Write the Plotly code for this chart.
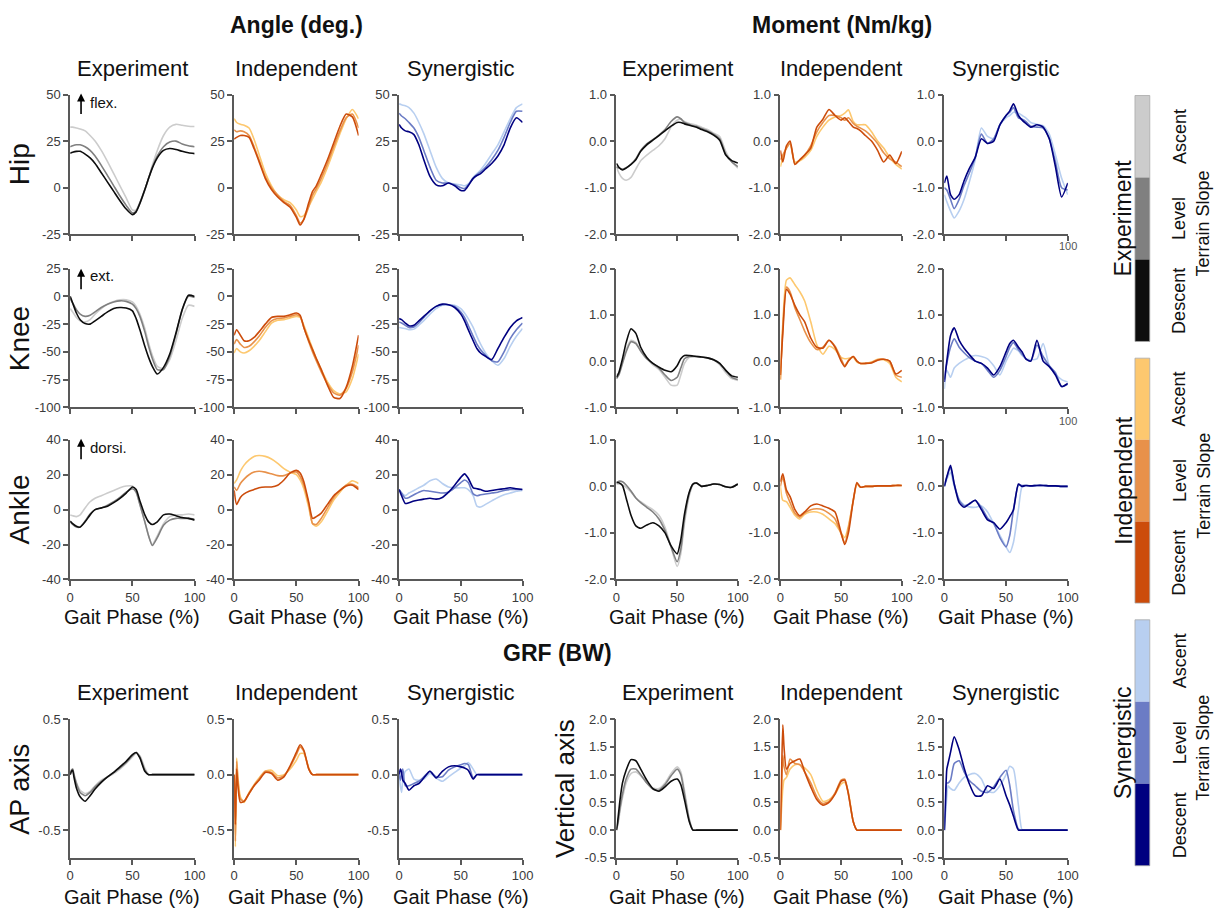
import plotly.graph_objects as go

W, H = 1225, 917

# ---------------- data ----------------
P = [0, 2, 5, 8, 12, 16, 20, 25, 30, 35, 40, 45, 50, 53, 56, 60, 63, 66, 70, 75, 80, 85, 90, 95, 100]
PG = [0, 1, 2, 3, 5, 8, 12, 16, 20, 25, 30, 35, 40, 45, 50, 53, 56, 60, 63, 66, 70, 80, 90, 100]

GROUPS = ["Experiment", "Independent", "Synergistic"]
SLOPES = ["Descent", "Level", "Ascent"]

# Hip angle (deg)
HIP_ANG_EXP_D = [18.5, 19, 19.5, 19.5, 18, 16, 13, 8, 3, -2, -7, -11.5, -14.5, -13, -8.5, -1, 5, 10.5, 16, 20, 21, 20.5, 19.5, 18.7, 18.3]
HIP_ANG_EXP_L = [22, 22.5, 23, 23, 22, 20, 17, 12, 6.5, 1, -4.5, -9.5, -13.5, -12.5, -8, -1, 5, 11, 17, 22, 24.5, 25, 23.5, 22.5, 22]
HIP_ANG_EXP_A = [32.5, 32.5, 32, 31.5, 30.5, 28, 25, 20, 14, 7.5, 1, -5.5, -12, -12, -8.5, -1.5, 5, 12, 20, 28, 32.5, 34, 33.5, 33, 32.8]
HIP_ANG_IND_D = [26, 27, 28, 28, 27, 21, 14, 5, -1, -5, -8, -10.5, -16, -20, -17, -8, -2, 1, 7, 15, 24, 33, 39.5, 38, 28]
HIP_ANG_IND_L = [31, 30, 30.5, 30, 28, 22, 15, 6, 0, -4, -7.5, -9.5, -15, -19, -17, -10, -4, -0.5, 5, 13, 22, 30.5, 37.5, 39.5, 32]
HIP_ANG_IND_A = [37, 35, 34, 33.5, 32, 26, 18, 8, 1, -4, -6.5, -8, -12, -15.5, -15, -10, -6, -2, 3, 11, 20, 29, 37, 42, 37]
HIP_ANG_SYN_D = [34, 32, 30.5, 30, 28.5, 23, 15, 6, 1.5, 1, 2.5, 1, -1.5, -1.5, 1, 5, 6.5, 7.5, 10, 13, 17, 23, 32, 37.5, 35]
HIP_ANG_SYN_L = [40, 38.5, 37, 35, 32, 27, 20, 11, 4, 2.5, 2.5, 1.5, 0, -0.5, 1.5, 5, 7, 8.5, 11, 15, 20, 27, 35, 41, 41]
HIP_ANG_SYN_A = [45, 44.5, 44, 43, 40, 35, 29, 20, 11, 5, 2.5, 2, 1.5, 1, 2, 5.5, 7.5, 9.5, 13, 18, 23, 30, 37, 43, 45]

# Knee angle (deg)
KNEE_ANG_EXP_D = [0, -6, -15, -21, -24.5, -25, -22, -18, -14, -11, -10, -10.5, -13, -20, -30, -45, -55, -63, -70, -64, -52, -33, -12, 1, 0]
KNEE_ANG_EXP_L = [-2, -6, -12, -16, -18, -17, -14, -10, -7, -5, -4, -4.5, -7, -11, -18, -32, -45, -56, -66, -66, -54, -34, -12, 0, -1]
KNEE_ANG_EXP_A = [-11, -14, -19, -22, -23, -21, -16, -11, -7, -4.5, -3, -3, -5, -9, -16, -29, -42, -53, -63, -65, -57, -40, -20, -8, -9]
KNEE_ANG_IND_D = [-35, -30, -35, -40, -40, -37, -32, -25, -19, -18, -18, -16.5, -15, -17, -28, -40, -48, -56, -66, -80, -91, -92, -82, -63, -35]
KNEE_ANG_IND_L = [-43, -39, -43, -46, -45, -41, -36, -28, -22, -20, -19.5, -18, -16.5, -18, -28, -41, -50, -58, -68, -79, -87, -89, -83, -68, -44]
KNEE_ANG_IND_A = [-51, -47, -50, -51, -49, -45, -40, -32, -24, -21.5, -21, -19.5, -18, -19, -26, -38, -47, -56, -66, -77, -85, -88, -86, -74, -52]
KNEE_ANG_SYN_D = [-20, -21, -24, -26.5, -26, -22, -18, -13, -9, -7, -7.5, -10, -16, -22, -30, -40, -47, -51, -54, -57, -47, -37, -28, -22, -19]
KNEE_ANG_SYN_L = [-23, -24, -26, -28, -27.5, -24, -19, -13, -9, -7.5, -7.5, -9, -14, -19, -26, -36, -43, -48, -53, -58, -59, -50, -38, -30, -24]
KNEE_ANG_SYN_A = [-28, -28.5, -29, -30, -29.5, -26, -22, -16, -11, -8, -7.5, -8, -11, -15, -20, -28, -36, -43, -51, -58, -62, -56, -45, -36, -29]

# Ankle angle (deg)
ANK_ANG_EXP_D = [-6.5, -8, -9.5, -10, -7, -3, 0, 1, 2, 4, 6.5, 9.5, 13, 11.5, 5, -3, -7, -8.5, -7, -3, -2.5, -3.5, -4.5, -5, -6]
ANK_ANG_EXP_L = [-7, -8.5, -10, -10, -6.5, -2.5, 0, 1, 2.5, 4.5, 7, 10, 12, 10, 3, -7, -15, -20.5, -16, -9, -6, -5, -5, -5, -5.5]
ANK_ANG_EXP_A = [-3, -3.5, -4, -3, 1, 4.5, 6.5, 8, 9.5, 11, 12.5, 13.5, 13.5, 10, 3, -7, -15, -20, -15, -8, -4, -3, -3, -2.5, -3]
ANK_ANG_IND_D = [11, 3, 7, 9, 10.5, 11.5, 12.5, 13, 13, 14, 17, 21, 22.5, 21, 16, 4, -5, -4, -2, 3, 8, 11, 13.5, 14, 11.5]
ANK_ANG_IND_L = [13, 11, 15, 17.5, 20, 21.5, 22, 21.5, 20.5, 19.5, 19.5, 21, 21.5, 19, 14, 3, -8, -8.5, -5, 1, 7, 11, 14, 14.5, 12.5]
ANK_ANG_IND_A = [15, 17, 22, 25.5, 28.5, 30.5, 31, 30.5, 29, 26.5, 23.5, 21.5, 20, 17, 12, 1, -8, -9.5, -7, -1, 5.5, 10, 14, 16.5, 15]
ANK_ANG_SYN_D = [11.5, 8, 3.5, 4, 5, 5.5, 6, 6.5, 6, 7, 10, 14, 18.5, 20.5, 18, 12.5, 12, 11.5, 10.5, 11, 11.5, 12, 12.5, 12, 11.5]
ANK_ANG_SYN_L = [11.5, 9.5, 6.5, 7, 8.5, 10, 11, 10.5, 10, 9.5, 10, 12.5, 15.5, 17, 15.5, 9, 8, 8.5, 9, 9.5, 10, 11, 11.5, 11.5, 11.5]
ANK_ANG_SYN_A = [11, 9.5, 8, 9.5, 11, 12.5, 14, 16.5, 17.5, 15, 13, 12.5, 12.5, 12.5, 11.5, 8, 2, 1.5, 3, 5, 7, 8.5, 9.5, 10.5, 11]

# Hip moment (Nm/kg)
HIP_MOM_EXP_D = [-0.48, -0.56, -0.62, -0.58, -0.5, -0.4, -0.22, -0.08, 0.02, 0.12, 0.22, 0.32, 0.4, 0.4, 0.37, 0.34, 0.32, 0.3, 0.25, 0.2, 0.13, 0.02, -0.3, -0.42, -0.47]
HIP_MOM_EXP_L = [-0.55, -0.58, -0.6, -0.57, -0.5, -0.38, -0.2, -0.06, 0.03, 0.13, 0.25, 0.42, 0.52, 0.48, 0.4, 0.36, 0.33, 0.32, 0.27, 0.22, 0.15, 0.05, -0.28, -0.45, -0.55]
HIP_MOM_EXP_A = [-0.55, -0.68, -0.8, -0.84, -0.78, -0.6, -0.42, -0.3, -0.2, -0.1, 0.05, 0.3, 0.45, 0.47, 0.42, 0.38, 0.36, 0.34, 0.3, 0.25, 0.17, 0.1, -0.22, -0.45, -0.58]
HIP_MOM_IND_D = [-0.2, -0.45, -0.1, 0.0, -0.5, -0.4, -0.3, -0.15, 0.3, 0.47, 0.68, 0.55, 0.45, 0.5, 0.42, 0.3, 0.27, 0.22, 0.12, 0.0, -0.2, -0.45, -0.3, -0.48, -0.22]
HIP_MOM_IND_L = [-0.4, -0.3, -0.15, -0.05, -0.5, -0.4, -0.3, -0.1, 0.2, 0.4, 0.55, 0.55, 0.5, 0.45, 0.5, 0.38, 0.32, 0.28, 0.22, 0.1, -0.05, -0.25, -0.38, -0.45, -0.55]
HIP_MOM_IND_A = [-0.55, -0.35, -0.15, -0.05, -0.45, -0.42, -0.35, -0.2, 0.1, 0.3, 0.45, 0.52, 0.55, 0.6, 0.67, 0.42, 0.35, 0.35, 0.35, 0.2, 0.0, -0.15, -0.35, -0.5, -0.6]
HIP_MOM_SYN_D = [-0.9, -0.75, -1.15, -1.25, -1.15, -0.85, -0.6, -0.35, 0.05, -0.05, 0.0, 0.35, 0.55, 0.65, 0.8, 0.55, 0.45, 0.38, 0.3, 0.35, 0.3, 0.05, -0.55, -1.2, -0.9]
HIP_MOM_SYN_L = [-1.0, -1.05, -1.25, -1.45, -1.25, -0.95, -0.7, -0.35, 0.15, -0.05, 0.05, 0.35, 0.55, 0.62, 0.72, 0.5, 0.47, 0.42, 0.32, 0.3, 0.28, 0.05, -0.45, -1.0, -1.05]
HIP_MOM_SYN_A = [-1.15, -1.3, -1.5, -1.65, -1.5, -1.25, -0.9, -0.4, 0.28, 0.1, 0.05, 0.35, 0.5, 0.55, 0.62, 0.6, 0.55, 0.5, 0.4, 0.36, 0.33, 0.15, -0.3, -0.8, -1.15]

# Knee moment (Nm/kg)
KNEE_MOM_EXP_D = [-0.35, -0.25, 0.05, 0.4, 0.7, 0.6, 0.3, 0.08, -0.05, -0.13, -0.2, -0.23, -0.1, 0.05, 0.12, 0.12, 0.11, 0.1, 0.09, 0.07, 0.03, -0.05, -0.2, -0.32, -0.35]
KNEE_MOM_EXP_L = [-0.38, -0.3, -0.05, 0.2, 0.42, 0.38, 0.22, 0.05, -0.05, -0.15, -0.3, -0.42, -0.35, -0.15, 0.05, 0.1, 0.1, 0.1, 0.09, 0.07, 0.03, -0.05, -0.2, -0.35, -0.4]
KNEE_MOM_EXP_A = [-0.3, -0.25, -0.02, 0.25, 0.45, 0.4, 0.22, 0.05, -0.08, -0.18, -0.35, -0.52, -0.52, -0.3, -0.05, 0.08, 0.1, 0.1, 0.09, 0.07, 0.03, -0.08, -0.25, -0.38, -0.42]
KNEE_MOM_IND_D = [-0.3, 0.6, 1.55, 1.45, 1.2, 1.0, 0.85, 0.5, 0.3, 0.28, 0.45, 0.3, 0.0, -0.12, 0.0, 0.1, 0.0, -0.05, -0.05, -0.04, 0.02, 0.04, 0.0, -0.28, -0.2]
KNEE_MOM_IND_L = [-0.4, 0.7, 1.6, 1.5, 1.15, 0.9, 0.65, 0.4, 0.25, 0.3, 0.45, 0.32, 0.05, -0.1, 0.02, 0.1, 0.0, -0.05, -0.05, -0.03, 0.03, 0.04, 0.0, -0.3, -0.35]
KNEE_MOM_IND_A = [-0.4, 0.8, 1.75, 1.8, 1.65, 1.5, 1.3, 0.85, 0.35, 0.15, 0.32, 0.25, 0.08, 0.05, 0.06, 0.08, -0.02, -0.05, -0.05, -0.02, 0.04, 0.03, -0.05, -0.35, -0.45]
KNEE_MOM_SYN_D = [-0.45, 0.0, 0.55, 0.72, 0.45, 0.28, 0.15, 0.0, -0.05, -0.15, -0.3, -0.12, 0.2, 0.38, 0.45, 0.3, 0.2, 0.05, 0.0, 0.45, 0.0, -0.12, -0.3, -0.55, -0.48]
KNEE_MOM_SYN_L = [-0.4, -0.05, 0.3, 0.48, 0.3, 0.18, 0.08, 0.0, -0.05, -0.2, -0.35, -0.2, 0.1, 0.3, 0.4, 0.25, 0.15, 0.05, 0.0, 0.35, 0.1, -0.1, -0.25, -0.55, -0.5]
KNEE_MOM_SYN_A = [-0.6, -0.2, -0.35, -0.15, -0.05, 0.02, 0.08, 0.12, 0.1, 0.05, -0.1, -0.3, 0.0, 0.15, 0.28, 0.22, 0.12, 0.05, 0.03, 0.05, 0.38, -0.1, -0.28, -0.4, -0.45]

# Ankle moment (Nm/kg)
ANK_MOM_EXP_D = [0.08, 0.08, 0.02, -0.25, -0.62, -0.85, -0.9, -0.83, -0.78, -0.85, -1.0, -1.28, -1.45, -1.15, -0.6, -0.12, 0.05, 0.07, 0.0, 0.02, 0.05, 0.04, -0.01, -0.02, 0.05]
ANK_MOM_EXP_L = [0.08, 0.11, 0.1, 0.03, -0.1, -0.25, -0.35, -0.45, -0.55, -0.7, -0.95, -1.3, -1.62, -1.35, -0.7, -0.15, 0.05, 0.07, 0.0, 0.02, 0.05, 0.04, -0.01, -0.02, 0.05]
ANK_MOM_EXP_A = [0.05, 0.05, 0.03, -0.02, -0.12, -0.25, -0.33, -0.42, -0.5, -0.62, -0.88, -1.3, -1.72, -1.45, -0.8, -0.2, 0.03, 0.07, 0.0, 0.02, 0.05, 0.04, -0.01, -0.02, 0.05]
ANK_MOM_IND_D = [0.1, 0.27, -0.08, -0.22, -0.5, -0.63, -0.55, -0.42, -0.38, -0.42, -0.47, -0.55, -1.0, -1.25, -1.0, -0.3, 0.08, -0.02, 0.0, 0.0, 0.01, 0.01, 0.01, 0.02, 0.02]
ANK_MOM_IND_L = [0.0, 0.2, -0.15, -0.35, -0.58, -0.66, -0.57, -0.5, -0.48, -0.5, -0.58, -0.7, -1.02, -1.22, -0.9, -0.3, 0.06, -0.02, 0.0, 0.0, 0.01, 0.01, 0.01, 0.02, 0.02]
ANK_MOM_IND_A = [0.0, -0.3, -0.33, -0.45, -0.62, -0.7, -0.6, -0.55, -0.55, -0.6, -0.7, -0.8, -1.0, -1.1, -0.85, -0.3, 0.05, -0.02, 0.0, 0.0, 0.01, 0.01, 0.01, 0.02, 0.02]
ANK_MOM_SYN_D = [0.0, 0.2, 0.45, 0.05, -0.35, -0.45, -0.38, -0.3, -0.5, -0.72, -0.78, -0.92, -0.78, -0.65, -0.5, 0.05, 0.0, 0.02, 0.01, 0.02, 0.02, 0.01, 0.01, 0.0, 0.0]
ANK_MOM_SYN_L = [0.0, 0.2, 0.4, 0.05, -0.3, -0.42, -0.38, -0.3, -0.45, -0.68, -0.8, -1.1, -1.3, -1.05, -0.5, 0.02, 0.02, 0.02, 0.01, 0.02, 0.02, 0.01, 0.01, 0.0, 0.0]
ANK_MOM_SYN_A = [0.0, 0.15, 0.3, 0.0, -0.28, -0.4, -0.44, -0.45, -0.42, -0.55, -0.8, -1.05, -1.3, -1.42, -1.2, -0.5, 0.0, 0.02, 0.01, 0.02, 0.02, 0.01, 0.01, 0.0, 0.0]

# GRF anterior-posterior (BW), sampled on PG
GRF_AP_EXP_D = [0.0, 0.03, 0.04, -0.02, -0.12, -0.2, -0.24, -0.19, -0.13, -0.07, -0.02, 0.02, 0.07, 0.12, 0.18, 0.2, 0.15, 0.03, 0.0, 0.0, 0.0, 0.0, 0.0, 0.0]
GRF_AP_EXP_L = [0.0, 0.04, 0.05, 0.0, -0.08, -0.16, -0.19, -0.16, -0.11, -0.06, -0.02, 0.02, 0.06, 0.11, 0.17, 0.2, 0.16, 0.04, 0.0, 0.0, 0.0, 0.0, 0.0, 0.0]
GRF_AP_EXP_A = [0.0, 0.04, 0.05, 0.01, -0.07, -0.14, -0.17, -0.15, -0.1, -0.05, -0.02, 0.01, 0.05, 0.1, 0.16, 0.19, 0.17, 0.06, 0.0, 0.0, 0.0, 0.0, 0.0, 0.0]
GRF_AP_IND_D = [0.0, -0.45, 0.05, -0.1, -0.25, -0.24, -0.17, -0.1, -0.05, 0.02, 0.01, -0.05, -0.02, 0.08, 0.2, 0.27, 0.22, 0.05, 0.0, 0.0, 0.0, 0.0, 0.0, 0.0]
GRF_AP_IND_L = [0.0, -0.6, 0.12, -0.05, -0.22, -0.24, -0.17, -0.1, -0.04, 0.03, 0.02, -0.03, -0.01, 0.07, 0.18, 0.25, 0.21, 0.05, 0.0, 0.0, 0.0, 0.0, 0.0, 0.0]
GRF_AP_IND_A = [0.0, -0.65, 0.15, -0.02, -0.2, -0.25, -0.16, -0.09, -0.03, 0.03, 0.04, -0.01, 0.0, 0.05, 0.13, 0.19, 0.19, 0.06, 0.0, 0.0, 0.0, 0.0, 0.0, 0.0]
GRF_AP_SYN_D = [0.0, 0.05, 0.02, -0.05, -0.08, -0.14, -0.1, -0.08, -0.03, 0.03, -0.03, 0.03, 0.07, 0.08, 0.07, 0.06, 0.04, -0.04, 0.0, 0.0, 0.0, 0.0, 0.0, 0.0]
GRF_AP_SYN_L = [0.0, -0.05, 0.02, 0.05, -0.1, -0.1, -0.08, -0.06, -0.02, 0.03, -0.02, -0.02, 0.04, 0.07, 0.09, 0.1, 0.09, -0.03, 0.0, 0.0, 0.0, 0.0, 0.0, 0.0]
GRF_AP_SYN_A = [0.0, -0.1, -0.16, -0.05, 0.03, 0.05, -0.04, -0.05, -0.04, 0.01, -0.03, -0.06, -0.02, 0.02, 0.06, 0.08, 0.11, 0.05, 0.0, 0.0, 0.0, 0.0, 0.0, 0.0]

# GRF vertical (BW), sampled on PG
GRF_V_EXP_D = [0.0, 0.15, 0.35, 0.55, 0.85, 1.08, 1.27, 1.25, 1.1, 0.9, 0.75, 0.7, 0.78, 0.88, 0.92, 0.82, 0.55, 0.15, 0.0, 0.0, 0.0, 0.0, 0.0, 0.0]
GRF_V_EXP_L = [0.0, 0.1, 0.25, 0.4, 0.65, 0.92, 1.1, 1.1, 1.0, 0.85, 0.74, 0.72, 0.82, 0.98, 1.1, 1.0, 0.65, 0.18, 0.0, 0.0, 0.0, 0.0, 0.0, 0.0]
GRF_V_EXP_A = [0.0, 0.08, 0.2, 0.35, 0.58, 0.85, 1.02, 1.05, 0.98, 0.85, 0.76, 0.75, 0.85, 1.02, 1.14, 1.05, 0.72, 0.2, 0.0, 0.0, 0.0, 0.0, 0.0, 0.0]
GRF_V_IND_D = [0.0, 1.0, 1.9, 1.5, 1.1, 1.2, 1.25, 1.28, 1.05, 0.78, 0.55, 0.45, 0.5, 0.65, 0.88, 0.9, 0.65, 0.15, 0.0, 0.0, 0.0, 0.0, 0.0, 0.0]
GRF_V_IND_L = [0.0, 0.7, 1.35, 1.15, 1.0, 1.28, 1.2, 1.18, 1.05, 0.85, 0.6, 0.48, 0.52, 0.67, 0.9, 0.92, 0.65, 0.15, 0.0, 0.0, 0.0, 0.0, 0.0, 0.0]
GRF_V_IND_A = [0.0, 0.4, 0.75, 0.9, 0.95, 1.1, 1.18, 1.18, 1.12, 1.0, 0.72, 0.52, 0.55, 0.65, 0.83, 0.86, 0.68, 0.15, 0.0, 0.0, 0.0, 0.0, 0.0, 0.0]
GRF_V_SYN_D = [0.0, 0.6, 1.1, 1.2, 1.4, 1.68, 1.45, 1.12, 0.85, 0.62, 0.62, 0.8, 0.75, 0.92, 0.62, 0.45, 0.25, 0.0, 0.0, 0.0, 0.0, 0.0, 0.0, 0.0]
GRF_V_SYN_L = [0.0, 0.45, 0.85, 0.85, 0.9, 1.2, 1.25, 1.05, 0.9, 0.8, 0.7, 0.68, 0.78, 0.95, 1.08, 0.8, 0.35, 0.02, 0.0, 0.0, 0.0, 0.0, 0.0, 0.0]
GRF_V_SYN_A = [0.0, 0.3, 0.6, 0.8, 0.75, 0.72, 0.85, 0.95, 1.0, 1.02, 0.92, 0.7, 0.68, 0.8, 1.0, 1.15, 1.1, 0.45, 0.0, 0.0, 0.0, 0.0, 0.0, 0.0]

# axis ticks
X_TICKS = [0, 50, 100]
HIP_ANG_TICKS = [-25, 0, 25, 50]
KNEE_ANG_TICKS = [-100, -75, -50, -25, 0, 25]
ANK_ANG_TICKS = [-40, -20, 0, 20, 40]
HIP_MOM_TICKS = [-2.0, -1.0, 0.0, 1.0]
KNEE_MOM_TICKS = [-1.0, 0.0, 1.0, 2.0]
ANK_MOM_TICKS = [-2.0, -1.0, 0.0, 1.0]
GRF_AP_TICKS = [-0.5, 0.0, 0.5]
GRF_V_TICKS = [-0.5, 0.0, 0.5, 1.0, 1.5, 2.0]

# colours (Descent, Level, Ascent)
EXP_COLORS = ["#0d0d0d", "#808080", "#cccccc"]
IND_COLORS = ["#cc4c0b", "#e8914a", "#fdc86f"]
SYN_COLORS = ["#000080", "#6b7cc5", "#b8cff0"]
PALETTES = [EXP_COLORS, IND_COLORS, SYN_COLORS]

# ---------------- layout geometry (pixels) ----------------
COLS_PX = [(67, 193), (233, 359), (400, 525), (620, 743), (786, 909), (952, 1077)]
ROWS_PX = [(89, 231), (266, 407), (440, 582), (724, 865)]
AX = "#595959"
FONT = "Liberation Sans, Arial, sans-serif"


def fx(px):
    return px / W


def fy(py):
    return 1 - py / H


def fmt_int(v):
    return str(int(v))


def fmt_1(v):
    return f"{v:.1f}"


panels = [
    (0, 0, (HIP_ANG_EXP_D, HIP_ANG_EXP_L, HIP_ANG_EXP_A), P, [-25, 50], HIP_ANG_TICKS, fmt_int),
    (0, 1, (HIP_ANG_IND_D, HIP_ANG_IND_L, HIP_ANG_IND_A), P, [-25, 50], HIP_ANG_TICKS, fmt_int),
    (0, 2, (HIP_ANG_SYN_D, HIP_ANG_SYN_L, HIP_ANG_SYN_A), P, [-25, 50], HIP_ANG_TICKS, fmt_int),
    (0, 3, (HIP_MOM_EXP_D, HIP_MOM_EXP_L, HIP_MOM_EXP_A), P, [-2, 1], HIP_MOM_TICKS, fmt_1),
    (0, 4, (HIP_MOM_IND_D, HIP_MOM_IND_L, HIP_MOM_IND_A), P, [-2, 1], HIP_MOM_TICKS, fmt_1),
    (0, 5, (HIP_MOM_SYN_D, HIP_MOM_SYN_L, HIP_MOM_SYN_A), P, [-2, 1], HIP_MOM_TICKS, fmt_1),
    (1, 0, (KNEE_ANG_EXP_D, KNEE_ANG_EXP_L, KNEE_ANG_EXP_A), P, [-100, 25], KNEE_ANG_TICKS, fmt_int),
    (1, 1, (KNEE_ANG_IND_D, KNEE_ANG_IND_L, KNEE_ANG_IND_A), P, [-100, 25], KNEE_ANG_TICKS, fmt_int),
    (1, 2, (KNEE_ANG_SYN_D, KNEE_ANG_SYN_L, KNEE_ANG_SYN_A), P, [-100, 25], KNEE_ANG_TICKS, fmt_int),
    (1, 3, (KNEE_MOM_EXP_D, KNEE_MOM_EXP_L, KNEE_MOM_EXP_A), P, [-1, 2], KNEE_MOM_TICKS, fmt_1),
    (1, 4, (KNEE_MOM_IND_D, KNEE_MOM_IND_L, KNEE_MOM_IND_A), P, [-1, 2], KNEE_MOM_TICKS, fmt_1),
    (1, 5, (KNEE_MOM_SYN_D, KNEE_MOM_SYN_L, KNEE_MOM_SYN_A), P, [-1, 2], KNEE_MOM_TICKS, fmt_1),
    (2, 0, (ANK_ANG_EXP_D, ANK_ANG_EXP_L, ANK_ANG_EXP_A), P, [-40, 40], ANK_ANG_TICKS, fmt_int),
    (2, 1, (ANK_ANG_IND_D, ANK_ANG_IND_L, ANK_ANG_IND_A), P, [-40, 40], ANK_ANG_TICKS, fmt_int),
    (2, 2, (ANK_ANG_SYN_D, ANK_ANG_SYN_L, ANK_ANG_SYN_A), P, [-40, 40], ANK_ANG_TICKS, fmt_int),
    (2, 3, (ANK_MOM_EXP_D, ANK_MOM_EXP_L, ANK_MOM_EXP_A), P, [-2, 1], ANK_MOM_TICKS, fmt_1),
    (2, 4, (ANK_MOM_IND_D, ANK_MOM_IND_L, ANK_MOM_IND_A), P, [-2, 1], ANK_MOM_TICKS, fmt_1),
    (2, 5, (ANK_MOM_SYN_D, ANK_MOM_SYN_L, ANK_MOM_SYN_A), P, [-2, 1], ANK_MOM_TICKS, fmt_1),
    (3, 0, (GRF_AP_EXP_D, GRF_AP_EXP_L, GRF_AP_EXP_A), PG, [-0.75, 0.5], GRF_AP_TICKS, fmt_1),
    (3, 1, (GRF_AP_IND_D, GRF_AP_IND_L, GRF_AP_IND_A), PG, [-0.75, 0.5], GRF_AP_TICKS, fmt_1),
    (3, 2, (GRF_AP_SYN_D, GRF_AP_SYN_L, GRF_AP_SYN_A), PG, [-0.75, 0.5], GRF_AP_TICKS, fmt_1),
    (3, 3, (GRF_V_EXP_D, GRF_V_EXP_L, GRF_V_EXP_A), PG, [-0.5, 2], GRF_V_TICKS, fmt_1),
    (3, 4, (GRF_V_IND_D, GRF_V_IND_L, GRF_V_IND_A), PG, [-0.5, 2], GRF_V_TICKS, fmt_1),
    (3, 5, (GRF_V_SYN_D, GRF_V_SYN_L, GRF_V_SYN_A), PG, [-0.5, 2], GRF_V_TICKS, fmt_1),
]

fig = go.Figure()
layout = {}

for row, col, series, xs, yr, yticks, fmt in panels:
    k = row * 6 + col + 1
    sfx = "" if k == 1 else str(k)
    palette = PALETTES[col % 3]
    for idx in (2, 1, 0):
        fig.add_trace(go.Scatter(
            x=xs, y=series[idx], mode="lines",
            line=dict(color=palette[idx], width=1.6, shape="spline", smoothing=0.6),
            xaxis="x" + sfx, yaxis="y" + sfx, showlegend=False, hoverinfo="skip",
        ))
    x0, x1 = COLS_PX[col]
    y0, y1 = ROWS_PX[row]
    common = dict(showline=True, linecolor=AX, linewidth=1.6, ticks="outside", ticklen=5,
                  tickcolor=AX, tickwidth=1.5, showgrid=False, zeroline=False,
                  tickfont=dict(size=13, color="#3a3a3a", family=FONT), fixedrange=True)
    layout["xaxis" + sfx] = dict(domain=[fx(x0), fx(x1)], anchor="y" + sfx, range=[0, 100],
                                 tickvals=X_TICKS, ticktext=[str(v) for v in X_TICKS],
                                 showticklabels=row >= 2, **common)
    layout["yaxis" + sfx] = dict(domain=[fy(y1), fy(y0)], anchor="x" + sfx, range=yr,
                                 tickvals=yticks, ticktext=[fmt(v) for v in yticks], **common)

annotations = []


def ann(text, x, y, size, bold=False, angle=0, xanchor="center", color="#111"):
    annotations.append(dict(
        text=f"<b>{text}</b>" if bold else text, x=fx(x), y=fy(y), xref="paper", yref="paper",
        showarrow=False, textangle=angle, xanchor=xanchor, yanchor="middle",
        font=dict(size=size, color=color, family=FONT)))


# group titles
ann("Angle (deg.)", 296, 18, 23, bold=True)
ann("Moment (Nm/kg)", 848, 18, 23, bold=True)
ann("GRF (BW)", 560, 657, 23, bold=True)

# column titles and x titles
for c, (x0, x1) in enumerate(COLS_PX):
    cx = (x0 + x1) / 2
    ann(GROUPS[c % 3], cx, 63, 22)
    ann(GROUPS[c % 3], cx, 697, 22)
    ann("Gait Phase (%)", cx, 620, 20)
    ann("Gait Phase (%)", cx, 905, 20)

# row labels
ann("Hip", 16, 160, 28, angle=-90)
ann("Knee", 16, 337, 28, angle=-90)
ann("Ankle", 16, 511, 28, angle=-90)
ann("AP axis", 16, 795, 27, angle=-90)
ann("Vertical axis", 568, 795, 26, angle=-90)

# direction hints
for label, head, tail, ty in (("flex.", 88, 110, 97), ("ext.", 266, 288, 273), ("dorsi.", 439, 461, 448)):
    annotations.append(dict(x=fx(78), y=fy(head), xref="paper", yref="paper", text="",
                            showarrow=True, ax=0, ay=tail - head, arrowhead=2, arrowsize=1,
                            arrowwidth=1.6, arrowcolor="#000"))
    ann(label, 85, ty, 15, xanchor="left")

# stray axis labels
ann("100", 1077, 243, 11, color="#555555")
ann("100", 1077, 421, 11, color="#555555")

# discrete colour keys
shapes = []
BAR_X = (1145, 1160)
BAR_Y = [(90, 340), (357, 606), (623, 873)]
for g, (top, bot) in enumerate(BAR_Y):
    seg = (bot - top) / 3
    palette = PALETTES[g]
    for i, sidx in enumerate((2, 1, 0)):
        s0 = top + i * seg
        s1 = s0 + seg
        shapes.append(dict(type="rect", xref="paper", yref="paper",
                           x0=fx(BAR_X[0]), x1=fx(BAR_X[1]), y0=fy(s1), y1=fy(s0),
                           fillcolor=palette[sidx], line=dict(width=0)))
        ann(SLOPES[sidx], 1190, (s0 + s1) / 2, 18, angle=-90)
    shapes.append(dict(type="rect", xref="paper", yref="paper",
                       x0=fx(BAR_X[0]), x1=fx(BAR_X[1]), y0=fy(bot), y1=fy(top),
                       line=dict(width=0.8, color="#aaa"), fillcolor="rgba(0,0,0,0)"))
    mid = (top + bot) / 2
    ann(GROUPS[g], 1133, mid, 23, angle=-90)
    ann("Terrain Slope", 1214, mid + 5, 18, angle=-90)

fig.update_layout(
    width=W, height=H, autosize=False,
    margin=dict(l=0, r=0, t=0, b=0),
    paper_bgcolor="white", plot_bgcolor="white",
    font=dict(family=FONT, color="#111"),
    annotations=annotations, shapes=shapes,
    **layout,
)

fig.write_html("out.html")
